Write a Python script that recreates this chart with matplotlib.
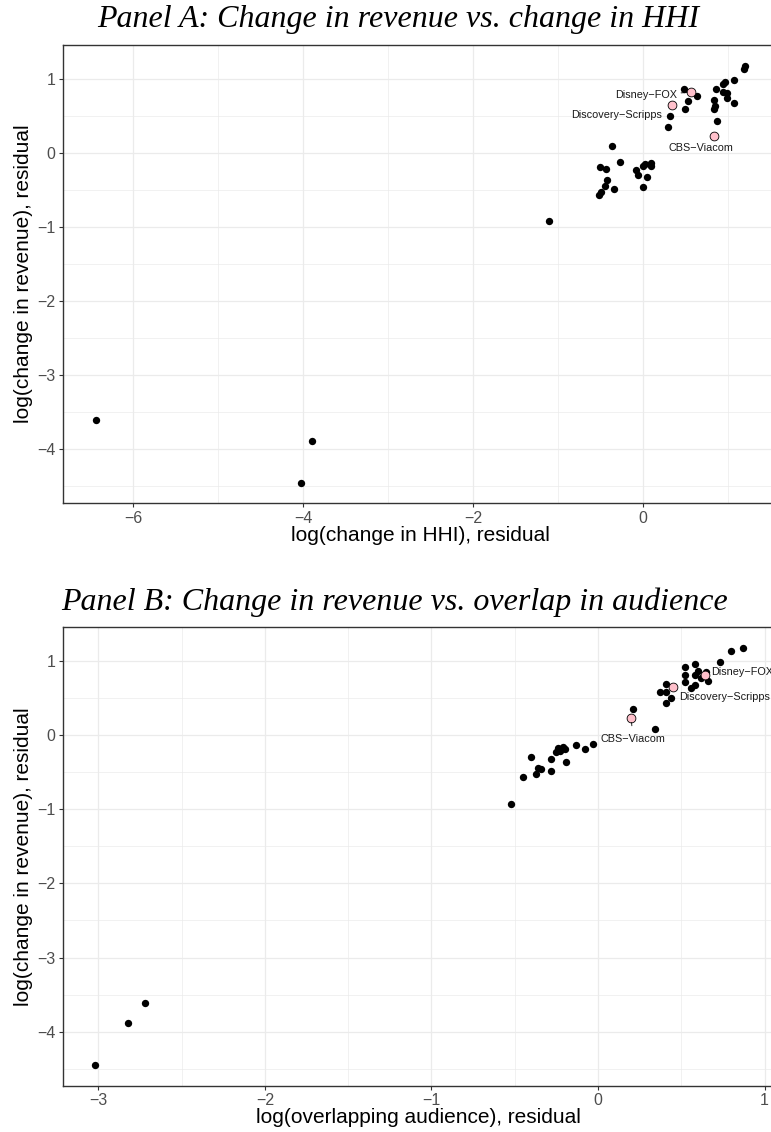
"""Residual scatter plots: revenue change vs HHI change and audience overlap."""

import matplotlib
matplotlib.use("agg")
import matplotlib.pyplot as plt
from matplotlib.ticker import MultipleLocator

# shared y: log(change in revenue), residual
rev_resid = [
    -3.61, -4.45, -3.89,
    -0.92, -0.56, -0.52, -0.48, -0.46, -0.44, -0.36, -0.32, -0.29, -0.23,
    -0.21, -0.19, -0.18, -0.17, -0.15, -0.13, -0.12,
    0.09, 0.35, 0.44, 0.50, 0.59, 0.59, 0.64, 0.68, 0.70, 0.72, 0.74, 0.77,
    0.81, 0.82, 0.86, 0.87, 0.93, 0.96, 0.99, 1.14, 1.18,
]
# panel A x: log(change in HHI), residual
hhi_resid = [
    -6.44, -4.03, -3.90,
    -1.11, -0.52, -0.49, -0.34, 0.00, -0.45, -0.42, 0.05, -0.06, -0.08,
    -0.43, -0.50, 0.09, 0.00, 0.02, 0.10, -0.27,
    -0.36, 0.29, 0.87, 0.32, 0.50, 0.84, 0.85, 1.07, 0.53, 0.84, 0.99, 0.64,
    0.99, 0.94, 0.48, 0.86, 0.94, 0.97, 1.07, 1.19, 1.20,
]
# panel B x: log(overlapping audience), residual
overlap_resid = [
    -2.72, -3.02, -2.82,
    -0.52, -0.45, -0.37, -0.28, -0.34, -0.36, -0.19, -0.28, -0.40, -0.25,
    -0.23, -0.08, -0.20, -0.24, -0.21, -0.13, -0.03,
    0.34, 0.21, 0.41, 0.44, 0.37, 0.41, 0.56, 0.58, 0.41, 0.52, 0.66, 0.62,
    0.52, 0.58, 0.65, 0.60, 0.52, 0.58, 0.73, 0.80, 0.87,
]

# highlighted mergers
merger_names = ["Disney\u2212FOX", "Discovery\u2212Scripps", "CBS\u2212Viacom"]
merger_rev = [0.82, 0.65, 0.23]
merger_hhi = [0.57, 0.34, 0.84]
merger_overlap = [0.64, 0.45, 0.20]

W, H = 771, 1132
fig = plt.figure(figsize=(W / 100, H / 100), dpi=100)

SANS = ["Liberation Sans", "DejaVu Sans"]
SERIF = ["Liberation Serif", "DejaVu Serif"]


def px_axes(left, top, width, height):
    return fig.add_axes([left / W, 1 - (top + height) / H, width / W, height / H])


def fmt_minus(v, _pos):
    return f"{v:g}".replace("-", "\u2212")


def style_axes(ax, xmajor, xminor):
    ax.xaxis.set_major_locator(MultipleLocator(xmajor))
    ax.xaxis.set_minor_locator(MultipleLocator(xminor))
    ax.yaxis.set_major_locator(MultipleLocator(1))
    ax.yaxis.set_minor_locator(MultipleLocator(0.5))
    ax.xaxis.set_major_formatter(fmt_minus)
    ax.yaxis.set_major_formatter(fmt_minus)
    ax.grid(which="major", color="#EBEBEB", linewidth=0.9, zorder=0)
    ax.grid(which="minor", color="#EBEBEB", linewidth=0.5, zorder=0)
    ax.set_axisbelow(True)
    for sp in ax.spines.values():
        sp.set_color("#333333")
        sp.set_linewidth(1.0)
    ax.tick_params(which="major", length=3, width=0.8, color="#333333",
                   labelcolor="#4D4D4D", labelsize=11.5, pad=2.5)
    ax.tick_params(which="minor", length=0)
    for lab in ax.get_xticklabels() + ax.get_yticklabels():
        lab.set_family(SANS)
    ax.set_ylabel("log(change in revenue), residual", fontsize=15,
                  family=SANS, labelpad=3)


def draw_panel(ax, xs, mx, labels, seg_shrink):
    ax.scatter(xs, rev_resid, s=28, color="black", linewidths=0, zorder=3)
    ax.scatter(mx, merger_rev, s=40, color="#FFC0CB", edgecolors="black",
               linewidths=0.6, zorder=4)
    for name, x, y, (tx, ty, ha, seg) in zip(merger_names, mx, merger_rev, labels):
        ax.annotate(name, xy=(x, y), xytext=(tx, ty), ha=ha, va="center",
                    fontsize=7.8, family=SANS, color="#1A1A1A", zorder=5,
                    annotation_clip=False,
                    arrowprops=dict(arrowstyle="-", color="black", lw=0.6,
                                    shrinkA=seg_shrink, shrinkB=3) if seg else None)


# Panel A
ax_a = px_axes(63.3, 45, 714, 458.3)
draw_panel(ax_a, hhi_resid, merger_hhi,
           [(0.40, 0.79, "right", True),
            (0.23, 0.52, "right", False),
            (0.68, 0.07, "center", False)], 1)
ax_a.set_xlim(-6.822, 1.582)
ax_a.set_ylim(-4.73, 1.46)
style_axes(ax_a, 2, 1)
ax_a.set_xlabel("log(change in HHI), residual", fontsize=15, family=SANS,
                labelpad=0)
fig.text(398 / W, 1 - 20 / H, "Panel A: Change in revenue vs. change in HHI",
         ha="center", va="center", fontsize=23, style="italic", family=SERIF)

# Panel B
ax_b = px_axes(63.3, 627.3, 711.2, 458.3)
draw_panel(ax_b, overlap_resid, merger_overlap,
           [(0.68, 0.86, "left", False),
            (0.49, 0.52, "left", False),
            (0.21, -0.05, "center", True)], 4)
ax_b.set_xlim(-3.21, 1.06)
ax_b.set_ylim(-4.73, 1.46)
style_axes(ax_b, 1, 0.5)
ax_b.set_xlabel("log(overlapping audience), residual", fontsize=15,
                family=SANS, labelpad=0)
fig.text(395 / W, 1 - 602 / H, "Panel B: Change in revenue vs. overlap in audience",
         ha="center", va="center", fontsize=23, style="italic", family=SERIF)

fig.savefig("out.png", dpi=100)
